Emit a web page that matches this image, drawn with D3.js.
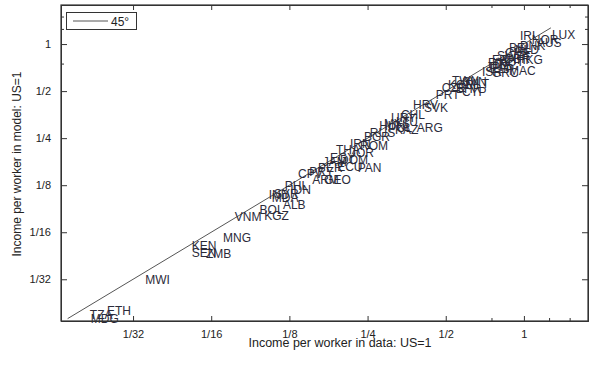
<!DOCTYPE html>
<html><head><meta charset="utf-8">
<script src="https://cdn.jsdelivr.net/npm/d3@7"></script>
<style>
html,body{margin:0;padding:0;background:#fff;}
svg text{font-family:"Liberation Sans",Arial,sans-serif;}
</style></head>
<body>
<svg id="chart" width="600" height="365"></svg>
<script>
// ---- data ----
const codes = ["IRL","NOR","LUX","BEL","DNK","AUS","NLD","CHE","SWE","GBR","HKG","FRA","AUT","FIN","ITA","JPN","ISR","ESP","MAC","GRC",
"TWN","SVN","KOR","MLT","CZE","BHR","PRT","CYP","HRV","SVK","CHL","URY","LTU","HUN","POL","KAZ","ARG","MYS","BGR","RUS",
"IRN","ROM","THA","JOR","JAM","DOM","EGY","ECU","PAN","PER","CPV","PRY","ARM","GEO","PHL","IDN","IND","MDA","SYR","ALB",
"BOL","VNM","KGZ","MNG","KEN","SEN","ZMB","MWI","ETH","TZA","MDG"];
const dataX = [0.965,1.073,1.282,0.876,0.965,1.122,0.923,0.845,0.787,0.838,0.940,0.753,0.808,0.727,0.766,0.714,0.689,0.740,0.876,0.753,
0.528,0.577,0.510,0.598,0.483,0.548,0.458,0.577,0.374,0.412,0.336,0.308,0.322,0.277,0.300,0.319,0.387,0.289,0.242,0.255,
0.214,0.234,0.189,0.214,0.168,0.196,0.179,0.191,0.229,0.161,0.135,0.149,0.153,0.170,0.120,0.126,0.104,0.107,0.109,0.118,
0.096,0.077,0.100,0.0694,0.0526,0.0526,0.0597,0.0348,0.0248,0.0213,0.0215];
const modelY = [1.125,1.061,1.142,0.943,0.971,1.015,0.915,0.876,0.838,0.801,0.790,0.790,0.767,0.756,0.734,0.712,0.662,0.692,0.672,0.652,
0.579,0.571,0.546,0.554,0.523,0.515,0.471,0.493,0.407,0.389,0.351,0.336,0.316,0.298,0.290,0.281,0.290,0.307,0.254,0.269,
0.229,0.222,0.210,0.200,0.176,0.181,0.186,0.163,0.161,0.161,0.147,0.151,0.135,0.135,0.123,0.116,0.108,0.103,0.110,0.093,
0.087,0.078,0.079,0.0571,0.0508,0.0458,0.0452,0.0308,0.0195,0.0184,0.0173];
const lineRange = [0.0175, 1.27];
const majorTicks = [1/32, 1/16, 1/8, 1/4, 1/2, 1];
const majorLabels = ["1/32","1/16","1/8","1/4","1/2","1"];
const minorTicks = [0.75, 1.25, 1.5];
const xDomain = [0.0165, 1.765];
const yDomain = [0.0169, 1.778];

// ---- layout ----
const L = 61, R = 588, T = 5, B = 321;
const svg = d3.select("#chart");
const x = d3.scaleLog().base(2).domain(xDomain).range([L, R]);
const y = d3.scaleLog().base(2).domain(yDomain).range([B, T]);
const frameColor = "#333";

// 45 degree line
svg.append("line")
  .attr("x1", x(lineRange[0])).attr("y1", y(lineRange[0]))
  .attr("x2", x(lineRange[1])).attr("y2", y(lineRange[1]))
  .attr("stroke", "#555").attr("stroke-width", 1);

// labels
const g = svg.append("g");
codes.forEach((c, i) => {
  g.append("text")
    .attr("x", x(dataX[i])).attr("y", y(modelY[i]))
    .attr("dominant-baseline", "central")
    .attr("font-size", 12)
    .attr("fill", "#2b2b3a")
    .text(c);
});

// axes
const fmt = d => majorLabels[majorTicks.indexOf(d)] || "";
svg.append("g").attr("transform", `translate(0,${B})`)
  .call(d3.axisBottom(x).tickValues(majorTicks).tickFormat(fmt).tickSizeInner(-5).tickSizeOuter(0).tickPadding(9));
svg.append("g").attr("transform", `translate(${L},0)`)
  .call(d3.axisLeft(y).tickValues(majorTicks).tickFormat(fmt).tickSizeInner(-6).tickSizeOuter(0).tickPadding(10));
svg.append("g").attr("transform", `translate(0,${T})`)
  .call(d3.axisTop(x).tickValues(majorTicks).tickFormat("").tickSizeInner(-5).tickSizeOuter(0));
svg.append("g").attr("transform", `translate(${R},0)`)
  .call(d3.axisRight(y).tickValues(majorTicks).tickFormat("").tickSizeInner(-6).tickSizeOuter(0));
// minor ticks
svg.append("g").attr("transform", `translate(0,${B})`).call(d3.axisBottom(x).tickValues(minorTicks).tickFormat("").tickSizeInner(-3).tickSizeOuter(0));
svg.append("g").attr("transform", `translate(0,${T})`).call(d3.axisTop(x).tickValues(minorTicks).tickFormat("").tickSizeInner(-3).tickSizeOuter(0));
svg.append("g").attr("transform", `translate(${L},0)`).call(d3.axisLeft(y).tickValues(minorTicks).tickFormat("").tickSizeInner(-3).tickSizeOuter(0));
svg.append("g").attr("transform", `translate(${R},0)`).call(d3.axisRight(y).tickValues(minorTicks).tickFormat("").tickSizeInner(-3).tickSizeOuter(0));

svg.selectAll(".domain").attr("stroke", frameColor);
svg.selectAll(".tick line").attr("stroke", frameColor);
svg.selectAll(".tick text").attr("font-size", 11).attr("fill", "#222")
  .attr("font-family", "Liberation Sans, Arial, sans-serif");

// frame
svg.append("rect").attr("x", L).attr("y", T).attr("width", R - L).attr("height", B - T)
  .attr("fill", "none").attr("stroke", frameColor).attr("stroke-width", 1.2);

// axis titles
svg.append("text").attr("x", 340).attr("y", 347).attr("text-anchor", "middle")
  .attr("font-size", 12.5).attr("fill", "#222").text("Income per worker in data: US=1");
svg.append("text").attr("transform", "translate(21,164) rotate(-90)").attr("text-anchor", "middle")
  .attr("font-size", 12).attr("fill", "#222").text("Income per worker in model: US=1");

// legend
const lg = svg.append("g");
lg.append("rect").attr("x", 66.5).attr("y", 12.5).attr("width", 70).attr("height", 17)
  .attr("fill", "#fff").attr("stroke", frameColor).attr("stroke-width", 1);
lg.append("line").attr("x1", 73).attr("x2", 108).attr("y1", 21).attr("y2", 21)
  .attr("stroke", "#555").attr("stroke-width", 1);
lg.append("text").attr("x", 111).attr("y", 25.5).attr("font-size", 12).attr("fill", "#222").text("45°");
</script>
</body></html>
